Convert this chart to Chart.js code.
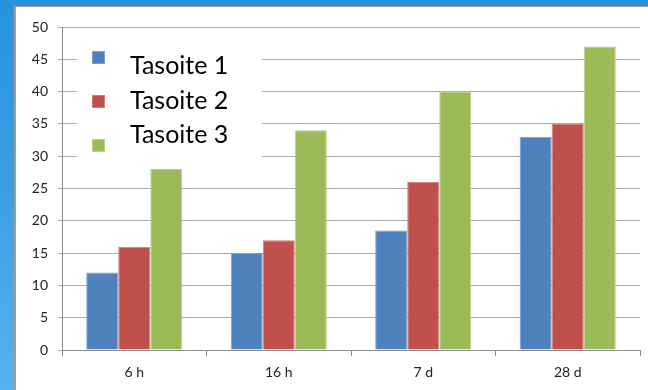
<!DOCTYPE html>
<html>
<head>
<meta charset="utf-8">
<script src="https://cdn.jsdelivr.net/npm/chart.js@4/dist/chart.umd.min.js"></script>
<style>
  html, body {
    margin: 0;
    padding: 0;
    width: 648px;
    height: 390px;
    overflow: hidden;
    background: linear-gradient(180deg, #2892dc 0%, #3aa0e4 50%, #58b2ec 100%);
  }
  #panel {
    position: absolute;
    left: 14px;
    top: 6px;
    width: 632px;
    height: 383px;
    background: #ffffff;
    border-left: 2px solid #9c9c9c;
    border-top: 1px solid #9c9c9c;
  }
  #chart {
    display: block;
  }
</style>
</head>
<body>
<div id="panel">
  <canvas id="chart" width="632" height="383"></canvas>
</div>
<script>
// Sample data
const categories = ['6 h', '16 h', '7 d', '28 d'];
const seriesNames = ['Tasoite 1', 'Tasoite 2', 'Tasoite 3'];
const tasoite1 = [12, 15, 18.5, 33];
const tasoite2 = [16, 17, 26, 35];
const tasoite3 = [28, 34, 40, 47];

const fills = ['#4f81bd', '#c0504d', '#9bbb59'];
const edges = ['#7a9fd0', '#d27e7b', '#b8d286'];

const fontFamily = 'Lato, "Open Sans", "Noto Sans", sans-serif';

// Legend drawn inside the plot, on a white box over the grid
const floatingLegend = {
    id: 'floatingLegend',
    beforeDatasetsDraw(chart) {
        const ctx = chart.ctx;
        ctx.save();
        ctx.fillStyle = '#ffffff';
        ctx.fillRect(61, 28, 185, 125);

        chart.data.datasets.forEach((ds, i) => {
            const markerTop = 44 + i * 44;
            ctx.fillStyle = ds.backgroundColor;
            ctx.fillRect(76, markerTop, 13, 13);
            ctx.strokeStyle = ds.borderColor;
            ctx.lineWidth = 1;
            ctx.strokeRect(76.5, markerTop + 0.5, 12, 12);

            ctx.fillStyle = '#000000';
            ctx.font = '25px ' + fontFamily;
            ctx.textAlign = 'left';
            ctx.textBaseline = 'alphabetic';
            ctx.fillText(ds.label, 114, 67 + i * 34.5);
        });
        ctx.restore();
    }
};

const seriesValues = [tasoite1, tasoite2, tasoite3];

new Chart(document.getElementById('chart'), {
    type: 'bar',
    data: {
        labels: categories,
        datasets: seriesNames.map((name, i) => ({
            label: name,
            data: seriesValues[i],
            backgroundColor: fills[i],
            borderColor: edges[i],
            borderWidth: 1,
            categoryPercentage: 0.665,
            barPercentage: 1.0
        }))
    },
    options: {
        responsive: false,
        animation: false,
        layout: {
            padding: { left: 0, right: 8, top: 20, bottom: 0 }
        },
        plugins: {
            legend: { display: false },
            tooltip: { enabled: false }
        },
        scales: {
            x: {
                grid: {
                    offset: true,
                    drawOnChartArea: false,
                    drawTicks: true,
                    tickLength: 6,
                    color: '#8c8c8c'
                },
                border: { color: '#8c8c8c' },
                ticks: {
                    color: '#222222',
                    padding: 8,
                    font: { family: fontFamily, size: 14 }
                },
                afterFit(scale) { scale.height = 40; }
            },
            y: {
                min: 0,
                max: 50,
                ticks: {
                    stepSize: 5,
                    color: '#222222',
                    padding: 10,
                    font: { family: fontFamily, size: 14 }
                },
                grid: {
                    color: '#ababab',
                    drawTicks: true,
                    tickLength: 4
                },
                border: { color: '#8c8c8c' },
                afterFit(scale) { scale.width = 46; }
            }
        }
    },
    plugins: [floatingLegend]
});
</script>
</body>
</html>
